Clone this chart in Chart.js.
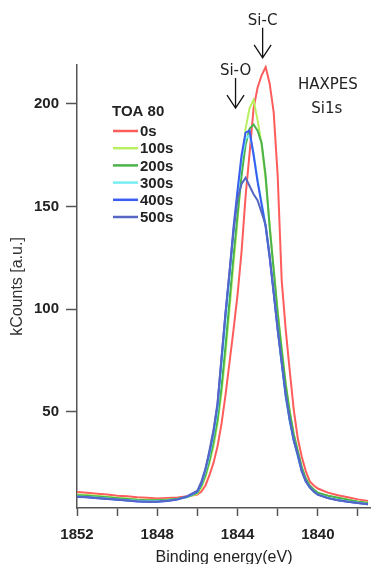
<!DOCTYPE html>
<html>
<head>
<meta charset="utf-8">
<script src="https://cdn.jsdelivr.net/npm/chart.js@4.4.0/dist/chart.umd.min.js"></script>
<style>
  html, body { margin: 0; padding: 0; background: #fff; }
</style>
</head>
<body>
<canvas id="chartCanvas" width="371" height="564"></canvas>
<script>
// Binding energies (eV), shared by all series
const energies = [
  1852, 1851.5, 1851, 1850.5, 1850, 1849.5, 1849, 1848.5, 1848, 1847.5, 1847, 1846.5,
  1846, 1845.8, 1845.6, 1845.4, 1845.2, 1845, 1844.8, 1844.6, 1844.4, 1844.2,
  1844, 1843.8, 1843.6, 1843.4, 1843.2, 1843, 1842.8, 1842.6, 1842.4, 1842.2,
  1842, 1841.8, 1841.6, 1841.4, 1841.2, 1841, 1840.8, 1840.6, 1840.4, 1840.2, 1840,
  1839.5, 1839, 1838.5, 1838, 1837.5
];

// kCounts per sputter time
const counts0s = [
  10.8, 10.4, 10.0, 9.6, 9.0, 8.7, 8.2, 8.0, 7.6, 7.9, 8.1, 8.7,
  9.6, 11, 14, 19, 25, 33, 44, 58, 74, 90,
  107, 128, 155, 176, 198, 208, 214, 218, 210, 196,
  165, 114, 90, 70, 51, 37, 28, 21, 16, 14, 12.5,
  10.5, 9.2, 8.2, 7.2, 6.4
];
const counts100s = [
  9.6, 9.4, 9.0, 8.5, 8.0, 7.6, 7.2, 7.0, 6.9, 7.1, 7.5, 8.3,
  10, 13, 18, 25, 33, 44, 59, 78, 100, 122,
  143, 168, 188, 198, 202, 192, 180, 163, 141, 120,
  99, 81, 64, 50, 39, 30, 22.5, 17, 13.5, 11.5, 10,
  9, 8, 7, 6.2, 5.6
];
const counts200s = [
  9.2, 9.0, 8.6, 8.2, 7.8, 7.4, 7.0, 6.8, 6.8, 7.0, 7.5, 8.4,
  10.5, 14, 19, 26, 35, 46, 62, 82, 104, 126,
  146, 165, 180, 188, 190, 187, 181, 165, 140, 119,
  98, 80, 63, 50, 39, 31, 23, 17.5, 14, 12, 10.5,
  9, 8, 7, 6, 5.5
];
const counts300s = [
  8.6, 8.4, 8.0, 7.6, 7.2, 6.8, 6.5, 6.3, 6.3, 6.6, 7.2, 8.4,
  11, 15, 21, 29, 39, 51, 72, 94, 115, 137,
  156, 173, 183, 185, 176, 163, 152, 141, 126, 108,
  90, 73, 57, 45, 36, 28, 21, 16, 13, 11, 9.5,
  8, 7, 6.2, 5.6, 5
];
const counts400s = [
  8.4, 8.2, 7.8, 7.4, 7.0, 6.6, 6.2, 6.0, 6.0, 6.4, 7.1, 8.6,
  11, 15, 22, 30, 40, 53, 76, 98, 118, 140,
  158, 175, 186, 187, 175, 162, 151, 140, 125, 108,
  90, 74, 58, 46, 36, 29, 21, 16, 13, 11, 9.5,
  7.8, 6.8, 6.0, 5.4, 4.8
];
const counts500s = [
  8.6, 8.3, 7.9, 7.5, 7.1, 6.7, 6.3, 6.1, 6.1, 6.5, 7.2, 8.8,
  11.5, 16, 22, 31, 41, 54, 76, 98, 118, 138,
  154, 161, 164, 160, 156, 153, 147, 141, 126, 108,
  90, 74, 58, 46, 36, 29, 21, 16, 13, 11, 9.5,
  7.8, 6.8, 6.0, 5.4, 4.8
];

const seriesLabels = ['0s', '100s', '200s', '300s', '400s', '500s'];
const seriesValues = [counts0s, counts100s, counts200s, counts300s, counts400s, counts500s];
const seriesColors = ['#ff5c5c', '#b8f060', '#4cb24c', '#78eef4', '#3a5cf0', '#5566c4'];

const xTickValues = [1852, 1850, 1848, 1846, 1844, 1842, 1840, 1838];
const yTickValues = [50, 100, 150, 200];

// peak markers: label, energy, value at arrow tip
const peakMarks = [
  { label: 'Si-C', energy: 1842.75, tip: 222.5 },
  { label: 'Si-O', energy: 1844.1, tip: 198 }
];

const axisFont = 'Liberation Sans, Arial, sans-serif';
const noteFont = 'DejaVu Sans, Verdana, sans-serif';

// legend + annotations drawn inside the plot
const overlayPlugin = {
  id: 'overlay',
  afterDatasetsDraw(chart) {
    const c = chart.ctx;
    const area = chart.chartArea;
    const xs = chart.scales.x;
    const ys = chart.scales.y;
    c.save();

    // legend
    c.font = 'bold 15px ' + axisFont;
    c.fillStyle = '#222';
    c.textBaseline = 'middle';
    c.textAlign = 'left';
    c.fillText('TOA 80', area.left + 35, area.top + 47);
    chart.data.datasets.forEach((ds, i) => {
      const y = area.top + 66 + i * 17.2;
      c.strokeStyle = ds.borderColor;
      c.lineWidth = 2.5;
      c.beginPath();
      c.moveTo(area.left + 36, y);
      c.lineTo(area.left + 61, y);
      c.stroke();
      c.fillText(ds.label, area.left + 63, y + 1);
    });

    // arrows
    c.font = '15px ' + noteFont;
    c.fillStyle = '#222';
    c.strokeStyle = '#111';
    c.lineWidth = 1.3;
    c.textAlign = 'center';
    peakMarks.forEach(m => {
      const x = xs.getPixelForValue(m.energy);
      const yTip = ys.getPixelForValue(m.tip);
      c.beginPath();
      c.moveTo(x, yTip - 30);
      c.lineTo(x, yTip);
      c.moveTo(x - 8.5, yTip - 13);
      c.lineTo(x, yTip);
      c.lineTo(x + 8.5, yTip - 13);
      c.stroke();
      c.fillText(m.label, x, yTip - 37);
    });

    c.fillText('HAXPES', xs.getPixelForValue(1839.5), ys.getPixelForValue(209));
    c.fillText('Si1s', xs.getPixelForValue(1839.55), ys.getPixelForValue(197.3));
    c.restore();
  }
};

const ctx = document.getElementById('chartCanvas').getContext('2d');

const chart = new Chart(ctx, {
  type: 'line',
  data: {
    datasets: seriesLabels.map((lab, i) => ({
      label: lab,
      data: energies.map((e, j) => ({ x: e, y: seriesValues[i][j] })),
      borderColor: seriesColors[i],
      borderWidth: 2,
      pointRadius: 0,
      tension: 0,
      fill: false,
      order: seriesLabels.length - i
    }))
  },
  options: {
    responsive: false,
    animation: false,
    devicePixelRatio: 1,
    layout: { padding: { top: 65, right: 0, bottom: 0, left: 0 } },
    plugins: {
      legend: { display: false },
      tooltip: { enabled: false }
    },
    scales: {
      x: {
        type: 'linear',
        reverse: true,
        min: 1837.35,
        max: 1852,
        afterBuildTicks: scale => { scale.ticks = xTickValues.map(v => ({ value: v })); },
        afterFit: scale => { scale.height = 56; },
        ticks: {
          autoSkip: false,
          maxRotation: 0,
          padding: 10,
          color: '#222',
          font: { family: axisFont, size: 15, weight: 'bold' },
          callback: v => (v % 4 === 0 ? String(v) : '')
        },
        grid: { drawOnChartArea: false, drawTicks: true, tickLength: 8, tickColor: '#555', tickWidth: 1.5 },
        border: { color: '#555', width: 1.5 },
        title: {
          display: true,
          text: 'Binding energy(eV)',
          color: '#222',
          font: { family: axisFont, size: 16, lineHeight: 0.8 },
          padding: 0
        }
      },
      y: {
        min: 3,
        max: 219,
        afterBuildTicks: scale => { scale.ticks = yTickValues.map(v => ({ value: v })); },
        afterFit: scale => { scale.width = 77; },
        ticks: {
          padding: 7,
          color: '#222',
          font: { family: axisFont, size: 15, weight: 'bold' }
        },
        grid: { drawOnChartArea: false, drawTicks: true, tickLength: 11, tickColor: '#555', tickWidth: 1.5 },
        border: { color: '#555', width: 1.5 },
        title: {
          display: true,
          text: 'kCounts [a.u.]',
          color: '#333',
          font: { family: axisFont, size: 16, lineHeight: 1 },
          padding: { top: 10, bottom: 0 }
        }
      }
    }
  },
  plugins: [overlayPlugin]
});
</script>
</body>
</html>
